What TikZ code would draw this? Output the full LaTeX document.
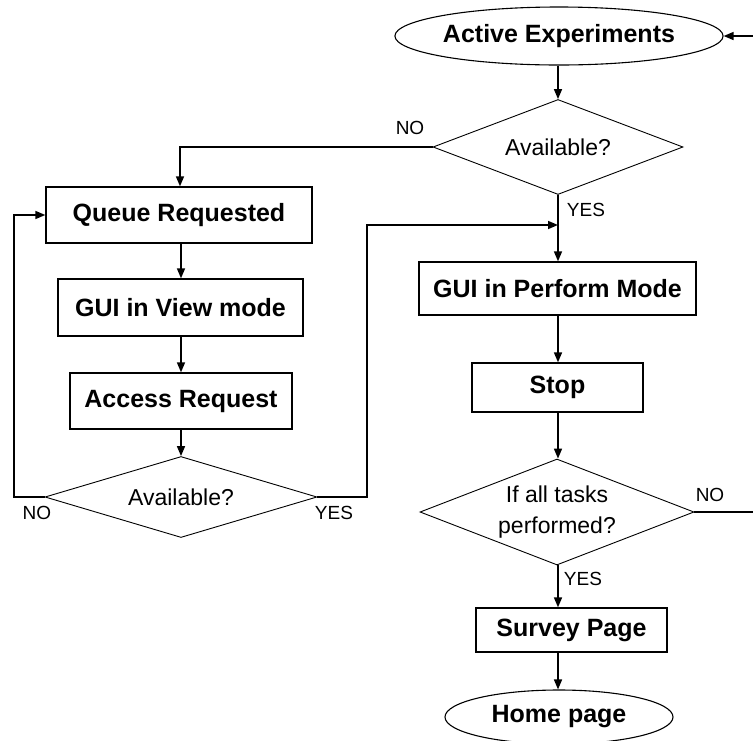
\documentclass[tikz,border=0pt]{standalone}
\usepackage{fontspec}
\setmainfont{Liberation Sans}
\usetikzlibrary{shapes.geometric,arrows.meta}
\tikzset{
  boxtext/.style={font=\fontsize{25}{30}\selectfont\bfseries},
  procbox/.style={draw, line width=1.3pt, rectangle, inner sep=0pt, boxtext},
  termell/.style={draw, line width=1.1pt, ellipse, inner sep=0pt, boxtext},
  decision/.style={draw, line width=0.9pt, diamond, inner sep=0pt,
    font=\fontsize{23}{31}\selectfont, align=center},
  lbl/.style={inner sep=0pt, font=\fontsize{19}{22}\selectfont},
  conn/.style={line width=1.6pt, -{Triangle[length=10pt,width=8pt]}},
  plain/.style={line width=1.6pt}
}
\begin{document}
\begin{tikzpicture}[x=1pt,y=-1pt]
\useasboundingbox (0,0) rectangle (753,740);
\clip (0,0) rectangle (753,740);
% right column
\node[termell, minimum width=288, minimum height=58] (ae) at (559,36) {Active Experiments};
\node[decision, aspect=2.63, minimum width=250, minimum height=95] (d1) at (558,147) {Available?};
\node[procbox, minimum width=277, minimum height=53] (gp) at (557.5,288.5) {GUI in Perform Mode};
\node[procbox, minimum width=171, minimum height=49] (st) at (557.5,387.5) {Stop};
\node[decision, aspect=2.58, minimum width=274, minimum height=106] (d3) at (557,512) {If all tasks\\performed?};
\node[procbox, minimum width=191, minimum height=44] (sp) at (571.5,630) {Survey Page};
\node[termell, minimum width=228, minimum height=54] (hp) at (559,717) {Home page};
% left column
\node[procbox, minimum width=266, minimum height=56] (qr) at (179,215) {Queue Requested};
\node[procbox, minimum width=245, minimum height=57] (gv) at (180.5,307.5) {GUI in View mode};
\node[procbox, minimum width=222, minimum height=56] (ar) at (181,401) {Access Request};
\node[decision, aspect=3.36, minimum width=272, minimum height=81] (d2) at (181,497) {Available?};
% labels
\node[lbl] (l1) at (410,128) {NO};
\node[lbl] (l2) at (586,210) {YES};
\node[lbl] (l3) at (37,513) {NO};
\node[lbl] (l4) at (334,513) {YES};
\node[lbl] (l5) at (710,495) {NO};
\node[lbl] (l6) at (583,579) {YES};
% free ends / joints
\coordinate (inR) at (753,36);
\coordinate (outR) at (753,512);
\coordinate (jn) at (558,225);
% connectors
\draw[conn] (inR) -- (ae.east);
\draw[conn] (ae.south -| d1.north) -- (d1.north);
\draw[conn] (d1.west) -| (qr.north -| 180,0);
\draw[conn] (d1.south) -- (d1.south |- gp.north);
\draw[conn] (qr.south -| d2.north) -- (gv.north -| d2.north);
\draw[conn] (gv.south -| d2.north) -- (ar.north -| d2.north);
\draw[conn] (ar.south -| d2.north) -- (d2.north);
\draw[conn] (d2.west) -- (14,497) |- (qr.west);
\draw[conn] (d2.east) -- (367,497) |- (jn);
\draw[conn] (gp.south -| d1.south) -- (st.north -| d1.south);
\draw[conn] (st.south -| d1.south) -- (d3.north -| d1.south);
\draw[plain] (d3.east) -- (outR);
\draw[conn] (d3.south -| d1.south) -- (sp.north -| d1.south);
\draw[conn] (sp.south -| d1.south) -- (hp.north -| d1.south);
\end{tikzpicture}
\end{document}
